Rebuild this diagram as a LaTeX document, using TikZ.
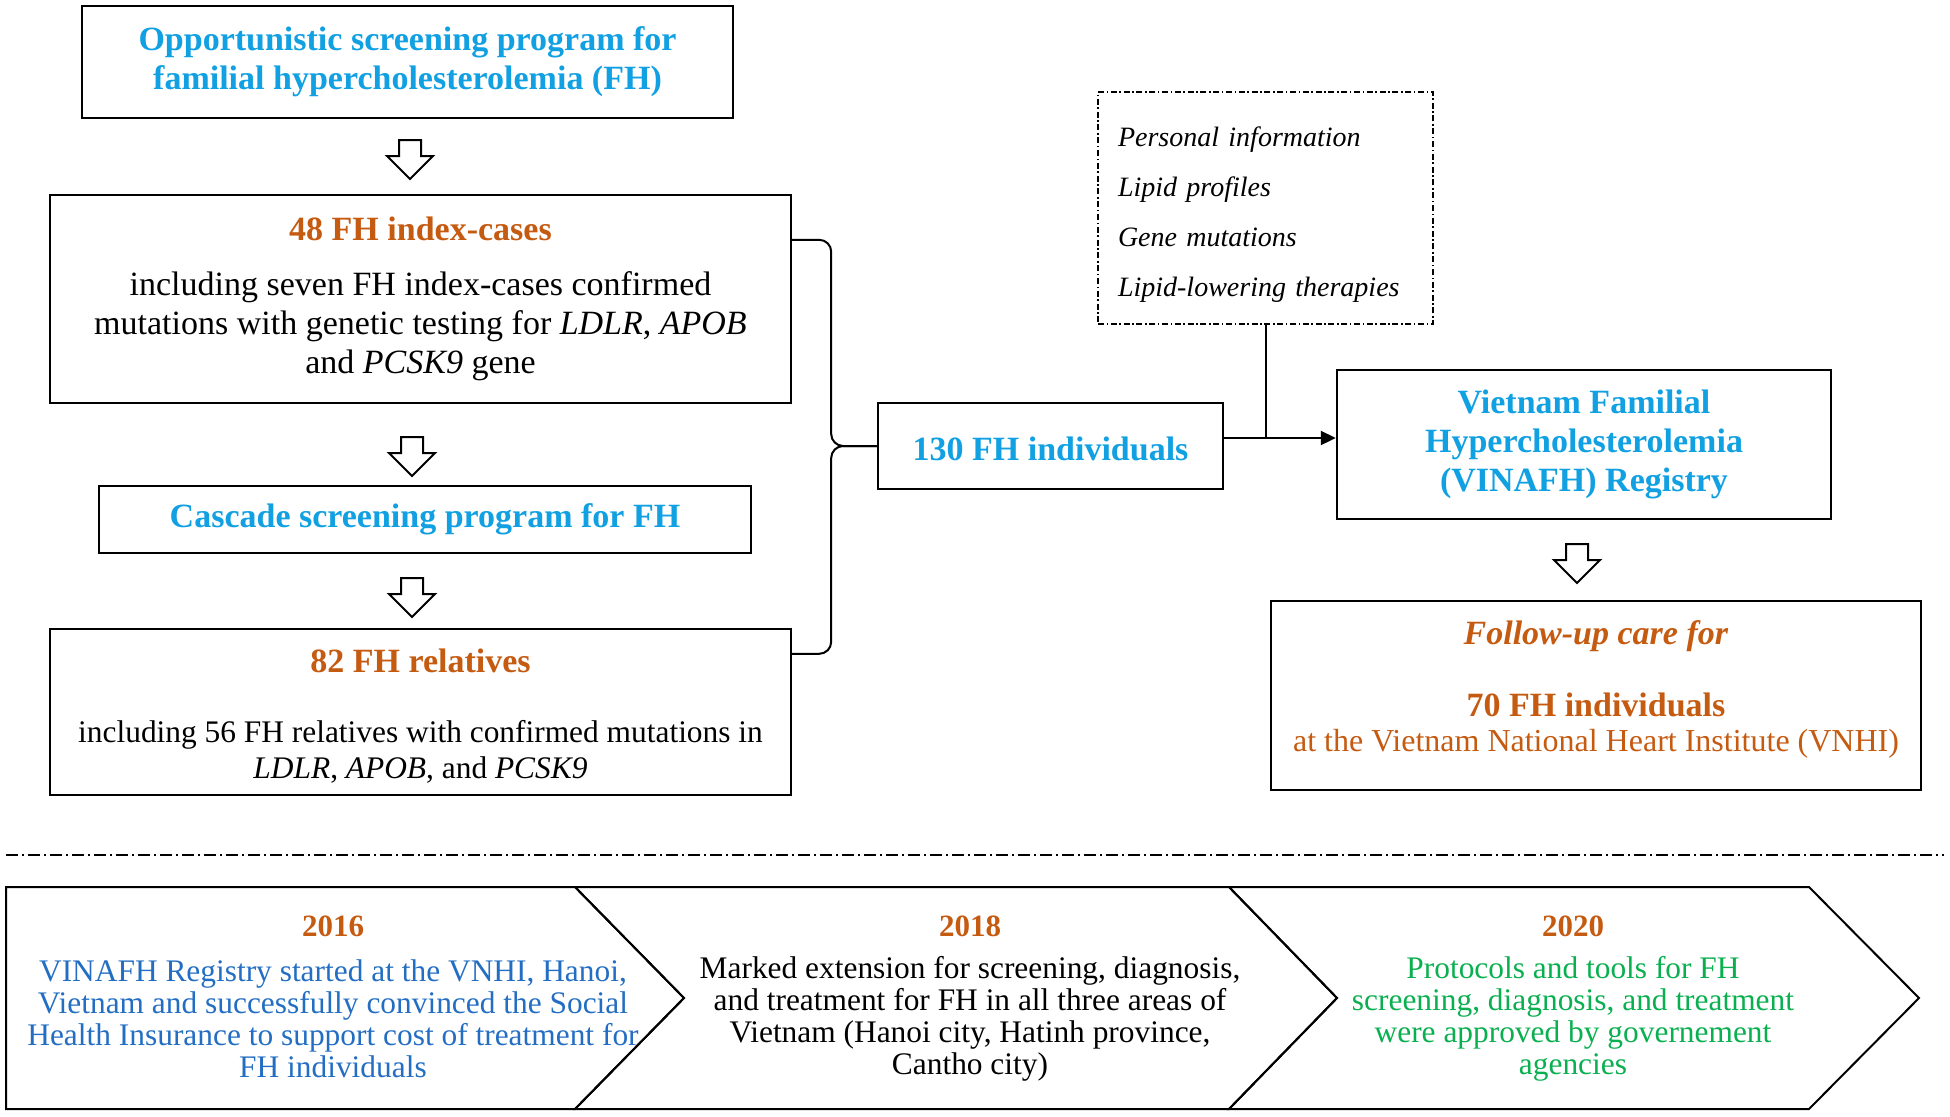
\documentclass[tikz,border=0pt]{standalone}
\usepackage{fontspec}
\setmainfont{Liberation Serif}
\usetikzlibrary{shapes.arrows,arrows.meta}
\definecolor{fhblue}{RGB}{17,160,225}
\definecolor{fhorange}{RGB}{197,90,17}
\definecolor{evblue}{RGB}{35,110,195}
\definecolor{fhgreen}{RGB}{10,175,80}

\begin{document}
\begin{tikzpicture}[x=0.5pt,y=-0.5pt,
  box/.style={draw,line width=1.2pt,align=center,inner sep=0pt,font=\fontsize{17}{19.5}\selectfont},
  headbox/.style={box,text=fhblue,font=\fontsize{17}{19.5}\selectfont\bfseries},
  infobox/.style={draw,line width=1pt,dash pattern=on 3pt off 1.3pt on 0.8pt off 1.3pt,
    minimum width=167.5pt,minimum height=116pt,text width=147.5pt,inner xsep=10pt,
    align=left,font=\fontsize{14}{16}\selectfont\itshape},
  down/.style={single arrow,draw,line width=1pt,shape border rotate=270,inner sep=5pt,
    single arrow head extend=6pt,minimum height=19.5pt},
  link/.style={line width=1pt},
  chev/.style={line width=1pt,line join=miter},
  year/.style={text=fhorange,font=\fontsize{15.5}{16}\selectfont\bfseries},
  event/.style={align=center,font=\fontsize{15.7}{16}\selectfont}]
  \useasboundingbox (0,0) rectangle (1950,1116);

  \node[headbox,minimum width=325.5pt,minimum height=56pt] (opp) at (407.5,62)
    {Opportunistic screening program for\\ familial hypercholesterolemia (FH)};
  \node[down] (a1) at (410,154) {};
  \node[box,minimum width=370.5pt,minimum height=104pt] (idx) at (420.5,299)
    {\textcolor{fhorange}{\textbf{48 FH index-cases}}\\[8pt]
     including seven FH index-cases confirmed\\
     mutations with genetic testing for \textit{LDLR}, \textit{APOB}\\
     and \textit{PCSK9} gene};
  \node[down] (a2) at (412,451) {};
  \node[headbox,minimum width=326pt,minimum height=33.5pt] (cas) at (425,519.5)
    {Cascade screening program for FH};
  \node[down] (a3) at (412,592) {};
  \node[box,minimum width=370.5pt,minimum height=83pt] (rel) at (420.5,712)
    {\rule{0pt}{16pt}\textcolor{fhorange}{\textbf{82 FH relatives}}\\[15.5pt]
     {\fontsize{15.7}{18}\selectfont including 56 FH relatives with confirmed mutations in}\\[-1.5pt]
     {\fontsize{15.7}{18}\selectfont\textit{LDLR}, \textit{APOB}, and \textit{PCSK9}}};

  \node[headbox,minimum width=172.5pt,minimum height=43pt] (ind) at (1050.5,446)
    {\rule{0pt}{15pt}130 FH individuals};
  \node[infobox] (info) at (1265.5,208)
    {\rule{0pt}{16pt}Personal information\\[9pt] Lipid profiles\\[9pt] Gene mutations\\[9pt] Lipid-lowering therapies};
  \node[headbox,minimum width=247pt,minimum height=74.5pt] (reg) at (1584,444.5)
    {Vietnam Familial\\ Hypercholesterolemia\\ (VINAFH) Registry};
  \node[down] (a4) at (1577,558) {};
  \node[box,text=fhorange,minimum width=325pt,minimum height=94.5pt] (fol) at (1596,695.5)
    {\textbf{\textit{Follow-up care for}}\\[16.5pt]
     \textbf{70 FH individuals}\\[-2pt]
     {\fontsize{16}{19}\selectfont at the Vietnam National Heart Institute (VNHI)\rule[-9pt]{0pt}{9pt}}};

  \draw[link,rounded corners=6pt] ([yshift=-23pt]idx.north east) -- ++(19.5pt,0) |- (ind.west);
  \draw[link,rounded corners=6pt] ([yshift=-13pt]rel.north east) -- ++(19.5pt,0) |- (ind.west);
  \coordinate (m) at ([yshift=4pt]ind.east);
  \draw[link,-{Triangle[length=7.5pt,width=7pt]}] (m) -- (m -| reg.west);
  \draw[link] (info.south) -- (m -| info.south);

  \draw[line width=1pt,dash pattern=on 6pt off 2pt on 1pt off 2pt] (6,855) -- (1944,855);

  \draw[chev] (6,887) -- (575,887) -- (684,998) -- (575,1109) -- (6,1109) -- cycle;
  \draw[chev] (575,887) -- (1229,887) -- (1337,998) -- (1229,1109) -- (575,1109) -- (684,998) -- cycle;
  \draw[chev] (1229,887) -- (1809,887) -- (1919,998) -- (1809,1109) -- (1229,1109) -- (1337,998) -- cycle;

  \node[year] (y16) at (333,926) {2016};
  \node[event,text=evblue] (e16) at (333,1019)
    {VINAFH Registry started at the VNHI, Hanoi,\\ Vietnam and successfully convinced the Social\\
     Health Insurance to support cost of treatment for\\ FH individuals};
  \node[year] (y18) at (970,926) {2018};
  \node[event] (e18) at (970,1019)
    {Marked extension for screening, diagnosis,\\ and treatment for FH in all three areas of\\
     Vietnam (Hanoi city, Hatinh province,\\ Cantho city)};
  \node[year] (y20) at (1573,926) {2020};
  \node[event,text=fhgreen] (e20) at (1573,1019)
    {Protocols and tools for FH\\ screening, diagnosis, and treatment\\
     were approved by governement\\ agencies};
\end{tikzpicture}
\end{document}
